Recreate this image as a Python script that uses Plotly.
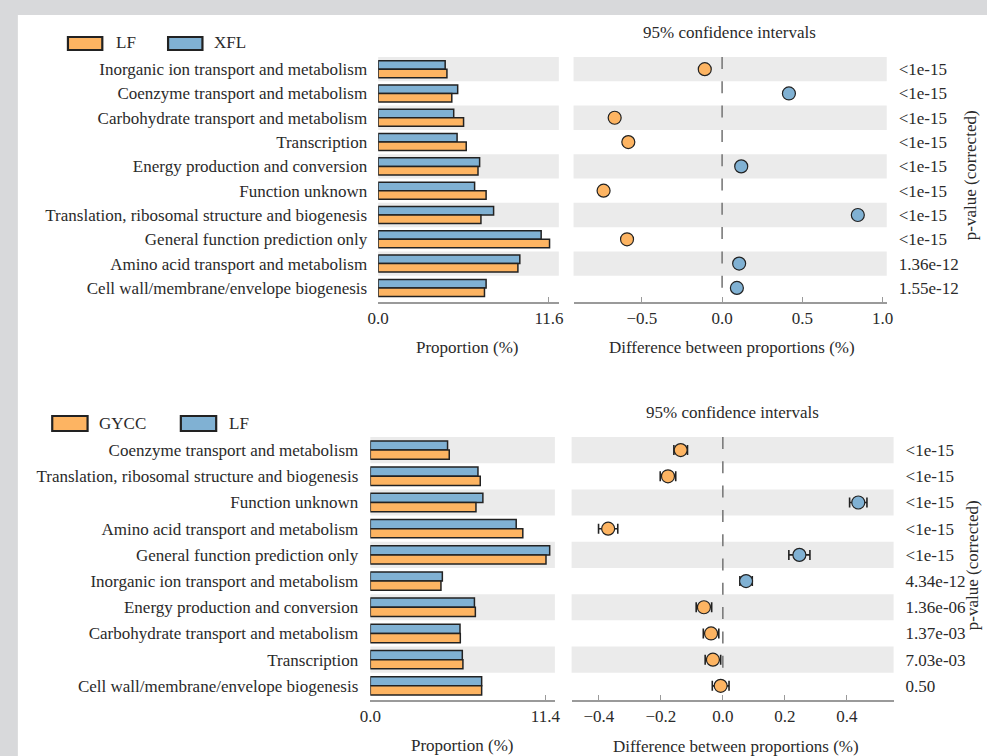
import plotly.graph_objects as go

# ---------------- data ----------------
# Panel A: LF vs XFL
cats_a = [
    "Inorganic ion transport and metabolism",
    "Coenzyme transport and metabolism",
    "Carbohydrate transport and metabolism",
    "Transcription",
    "Energy production and conversion",
    "Function unknown",
    "Translation, ribosomal structure and biogenesis",
    "General function prediction only",
    "Amino acid transport and metabolism",
    "Cell wall/membrane/envelope biogenesis",
]
lf_a = [4.67, 5.00, 5.80, 5.98, 6.78, 7.33, 6.98, 11.64, 9.49, 7.22]
xfl_a = [4.55, 5.40, 5.13, 5.36, 6.89, 6.55, 7.84, 11.07, 9.62, 7.33]
diff_a = [-0.108, 0.416, -0.669, -0.584, 0.119, -0.738, 0.845, -0.592, 0.106, 0.092]
ci_a = [0.012, 0.012, 0.012, 0.012, 0.012, 0.012, 0.012, 0.012, 0.012, 0.012]
p_a = ["<1e-15"] * 8 + ["1.36e-12", "1.55e-12"]

# Panel B: GYCC vs LF
cats_b = [
    "Coenzyme transport and metabolism",
    "Translation, ribosomal structure and biogenesis",
    "Function unknown",
    "Amino acid transport and metabolism",
    "General function prediction only",
    "Inorganic ion transport and metabolism",
    "Energy production and conversion",
    "Carbohydrate transport and metabolism",
    "Transcription",
    "Cell wall/membrane/envelope biogenesis",
]
gycc_b = [5.14, 7.16, 6.88, 9.93, 11.44, 4.60, 6.84, 5.86, 6.03, 7.25]
lf_b = [5.03, 7.01, 7.33, 9.50, 11.68, 4.69, 6.78, 5.84, 5.99, 7.25]
diff_b = [-0.136, -0.177, 0.437, -0.370, 0.247, 0.075, -0.061, -0.038, -0.032, -0.007]
ci_b = [0.022, 0.025, 0.028, 0.031, 0.034, 0.020, 0.025, 0.025, 0.025, 0.027]
p_b = ["<1e-15"] * 5 + ["4.34e-12", "1.36e-06", "1.37e-03", "7.03e-03", "0.50"]

# ---------------- style ----------------
W, H = 987, 756
ORANGE = "#fdb462"
BLUE = "#80b1d3"
EDGE = "#222222"
BAND = "#ebebeb"
AXIS = "#9a9a9a"
TXT = "#2a2a2a"
FONT = "Liberation Serif"
FS = 17


def fx(px):
    return px / W


def fy(py):
    return 1 - py / H


fig = go.Figure()

panels = [
    dict(bx="x", by="y", dx="x2", dy="y2", cats=cats_a, blue=xfl_a, orange=lf_a,
         diff=diff_a, ci=ci_a, p=p_a),
    dict(bx="x3", by="y3", dx="x4", dy="y4", cats=cats_b, blue=lf_b, orange=gycc_b,
         diff=diff_b, ci=ci_b, p=p_b),
]

bw = 0.35
for pnl in panels:
    fig.add_trace(go.Bar(
        y=pnl["cats"], x=pnl["blue"], orientation="h", width=bw, offset=-bw,
        marker=dict(color=BLUE, line=dict(color=EDGE, width=1.5)),
        xaxis=pnl["bx"], yaxis=pnl["by"], showlegend=False, hoverinfo="x+y",
    ))
    fig.add_trace(go.Bar(
        y=pnl["cats"], x=pnl["orange"], orientation="h", width=bw, offset=0,
        marker=dict(color=ORANGE, line=dict(color=EDGE, width=1.5)),
        xaxis=pnl["bx"], yaxis=pnl["by"], showlegend=False, hoverinfo="x+y",
    ))
    cols = [BLUE if d > 0 else ORANGE for d in pnl["diff"]]
    fig.add_trace(go.Scatter(
        y=pnl["cats"], x=pnl["diff"], mode="markers",
        marker=dict(size=13, color=cols, line=dict(color=EDGE, width=1.2)),
        error_x=dict(type="data", array=pnl["ci"], color=EDGE, thickness=1.6, width=5),
        xaxis=pnl["dx"], yaxis=pnl["dy"], showlegend=False,
    ))

# ---------------- axes ----------------
def xaxis_cfg(domain, rng, tickvals, ticktext, anchor):
    return dict(
        domain=[fx(domain[0]), fx(domain[1])], range=rng, anchor=anchor,
        showgrid=False, zeroline=False, showline=True, linecolor=AXIS, linewidth=2,
        ticks="inside", ticklen=5, tickwidth=1.2, tickcolor=AXIS,
        tickvals=tickvals, ticktext=ticktext, ticklabelstandoff=0,
        tickfont=dict(family=FONT, size=FS, color=TXT), fixedrange=True,
    )


def yaxis_cfg(domain, rng, cats, anchor, standoff, side="left", ticktext=None):
    cfg = dict(
        domain=[fy(domain[1]), fy(domain[0])], range=rng, anchor=anchor,
        type="category", categoryorder="array", categoryarray=cats,
        showgrid=False, zeroline=False, showline=False, ticks="", side=side,
        tickfont=dict(family=FONT, size=FS, color=TXT), fixedrange=True,
        ticklabelstandoff=standoff,
    )
    if ticktext is not None:
        cfg["tickvals"] = list(range(len(cats)))
        cfg["ticktext"] = ticktext
    return cfg


top_dom = (57, 302)
bot_dom = (437, 700)
top_rng = [9.58, -0.5]
bot_rng = [9.54, -0.5]

fig.update_layout(
    xaxis=xaxis_cfg((374, 558), [0, 12.27], [0, 11.6], ["0.0", "11.6"], "y"),
    yaxis=yaxis_cfg(top_dom, top_rng, cats_a, "x", 10),
    xaxis2=xaxis_cfg((573, 892), [-0.925, 1.025], [-0.5, 0, 0.5, 1.0],
                     ["\u22120.5", "0.0", "0.5", "1.0"], "y2"),
    yaxis2=yaxis_cfg(top_dom, top_rng, cats_a, "x2", 11, side="right", ticktext=p_a),
    xaxis3=xaxis_cfg((366, 554), [0, 12.02], [0, 11.4], ["0.0", "11.4"], "y3"),
    yaxis3=yaxis_cfg(bot_dom, bot_rng, cats_b, "x3", 11),
    xaxis4=xaxis_cfg((571, 899), [-0.488, 0.551], [-0.4, -0.2, 0, 0.2, 0.4],
                     ["\u22120.4", "\u22120.2", "0.0", "0.2", "0.4"], "y4"),
    yaxis4=yaxis_cfg(bot_dom, bot_rng, cats_b, "x4", 11, side="right", ticktext=p_b),
)

# ---------------- shapes ----------------
shapes = [
    # white sheet on grey page
    dict(type="rect", xref="paper", yref="paper", x0=fx(7), x1=1.01, y0=-0.01, y1=fy(15),
         fillcolor="white", line=dict(width=0), layer="below"),
]
axis_pairs = [("x", "y"), ("x2", "y2"), ("x3", "y3"), ("x4", "y4")]
for xa, ya in axis_pairs:
    for i in range(0, 10, 2):
        shapes.append(dict(type="rect", xref=f"{xa} domain", yref=ya,
                           x0=0, x1=1, y0=i - 0.5, y1=i + 0.5,
                           fillcolor=BAND, line=dict(width=0), layer="below"))
# dashed zero reference in the difference panels
for xa, ya in [("x2", "y2"), ("x4", "y4")]:
    shapes.append(dict(type="line", xref=xa, yref=ya, x0=0, x1=0, y0=-0.5, y1=9.5,
                       line=dict(color="#7a7a7a", width=1.6, dash="12px,12.3px"),
                       layer="below"))

# legend swatches
legend_boxes = [
    (58, 93, 37, 50, ORANGE), (160, 195, 37, 50, BLUE),
    (42, 78, 416, 431, ORANGE), (173, 209, 416, 431, BLUE),
]
for x0, x1, y0, y1, c in legend_boxes:
    shapes.append(dict(type="rect", xref="paper", yref="paper",
                       x0=fx(x0), x1=fx(x1), y0=fy(y1), y1=fy(y0),
                       fillcolor=c, line=dict(color=EDGE, width=2.2)))

# ---------------- text ----------------
def txt(s, x, y, xanchor="center", angle=0):
    return dict(text=s, xref="paper", yref="paper", x=fx(x), y=fy(y),
                xanchor=xanchor, yanchor="middle", showarrow=False, textangle=angle,
                font=dict(family=FONT, size=FS, color=TXT))


annotations = [
    txt("LF", 105, 43, "left"), txt("XFL", 205, 43, "left"),
    txt("GYCC", 88, 423, "left"), txt("LF", 220, 423, "left"),
    txt("95% confidence intervals", 732, 32),
    txt("95% confidence intervals", 735, 412),
    txt("Proportion (%)", 464, 347),
    txt("Difference between proportions (%)", 734, 348),
    txt("Proportion (%)", 459, 745),
    txt("Difference between proportions (%)", 738, 746),
    txt("p-value (corrected)", 977, 175, angle=-90),
    txt("p-value (corrected)", 979, 565, angle=-90),
]

fig.update_layout(
    width=W, height=H, margin=dict(l=0, r=0, t=0, b=0),
    paper_bgcolor="#d8d9db", plot_bgcolor="rgba(0,0,0,0)",
    barmode="overlay", shapes=shapes, annotations=annotations,
    font=dict(family=FONT, size=FS, color=TXT),
)

fig.write_html("out.html")
